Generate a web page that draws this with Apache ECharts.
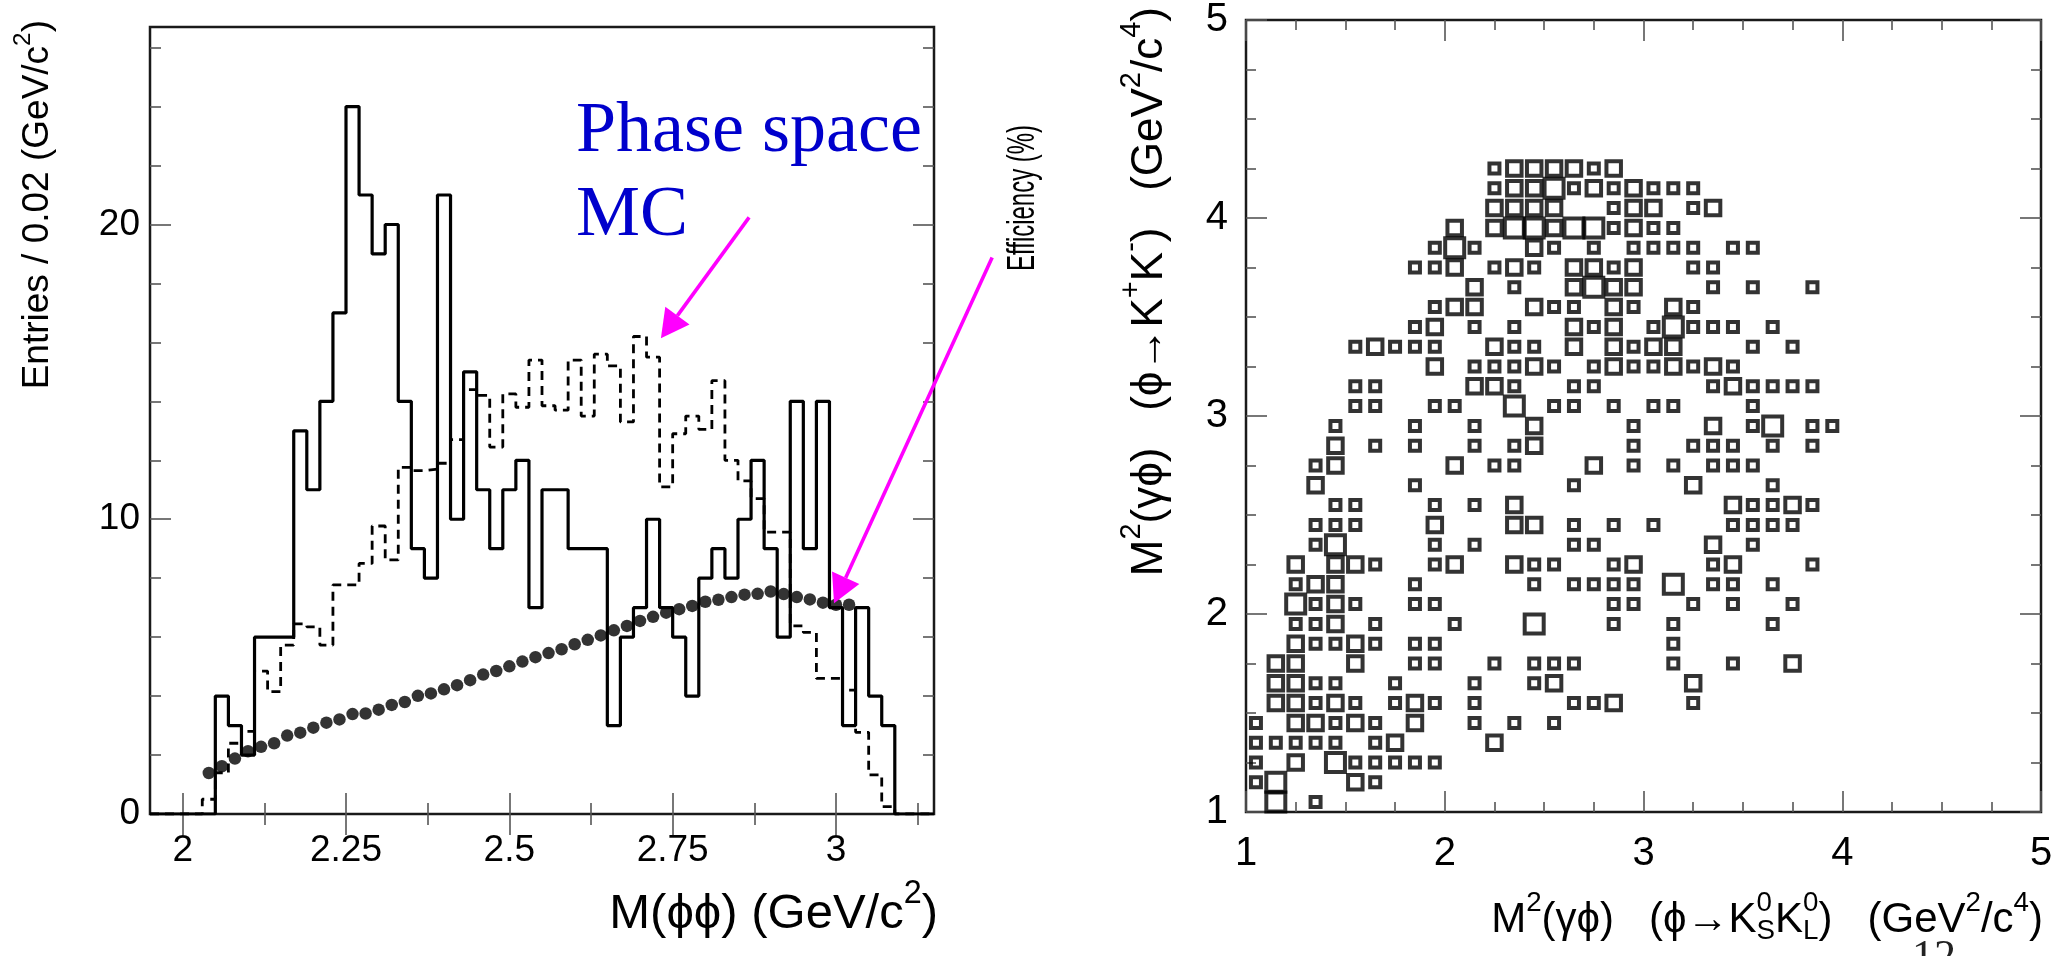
<!DOCTYPE html>
<html>
<head>
<meta charset="utf-8">
<script src="https://cdn.jsdelivr.net/npm/echarts@6/dist/echarts.min.js"></script>
<style>
  html, body { margin: 0; padding: 0; background: #ffffff; }
  #chart { width: 2069px; height: 956px; }
</style>
</head>
<body>
<div id="chart"></div>
<script>
// ---- M(phi phi) histograms: 60 bins of 0.02 GeV/c^2 starting at 1.95 ----
const massLow = 1.95;
const massBinWidth = 0.02;

// entries per bin (data, solid histogram)
const dataCounts = [
  0, 0, 0, 0, 0, 4, 3, 2, 6, 6,
  6, 13, 11, 14, 17, 24, 21, 19, 20, 14,
  9, 8, 21, 10, 15, 11, 9, 11, 12, 7,
  11, 11, 9, 9, 9, 3, 6, 7, 10, 7,
  6, 4, 8, 9, 8, 10, 12, 9, 6, 14,
  9, 14, 7, 3, 7, 4, 3, 0, 0, 0
];

// normalised phase-space Monte Carlo (dashed histogram)
const phaseSpaceMC = [
  0, 0, 0, 0, 0.5, 1.4, 2.4, 2.8, 4.85, 4.15,
  5.73, 6.45, 6.35, 5.73, 7.77, 7.77, 8.5, 9.77, 8.62, 11.76,
  11.65, 11.7, 11.9, 12.7, 14.4, 14.2, 12.45, 14.25, 13.8, 15.4,
  13.85, 13.7, 15.4, 13.5, 15.6, 15.2, 13.3, 16.2, 15.5, 11.1,
  12.9, 13.5, 13.05, 14.7, 12.0, 11.3, 10.7, 9.56, 9.56, 6.38,
  6.16, 4.6, 4.6, 4.2, 2.77, 1.33, 0.25, 0, 0, 0
];

// selection efficiency in %, one point per bin starting at bin 4 (M = 2.04)
const effFirstBin = 4;
const efficiency = [
  1.39, 1.62, 1.88, 2.13, 2.28, 2.40, 2.66, 2.76, 2.93, 3.10,
  3.21, 3.39, 3.41, 3.54, 3.70, 3.80, 4.01, 4.09, 4.23, 4.37,
  4.54, 4.73, 4.85, 5.01, 5.17, 5.32, 5.46, 5.59, 5.76, 5.91,
  6.06, 6.23, 6.38, 6.55, 6.69, 6.83, 6.95, 7.06, 7.20, 7.27,
  7.36, 7.44, 7.47, 7.55, 7.46, 7.36, 7.28, 7.17, 7.10, 7.10
];

// axis ticks of the mass plot
const massMajorTicks = [2, 2.25, 2.5, 2.75, 3];
const massMinorTicks = [2.125, 2.375, 2.625, 2.875, 3.125];
const entriesMajorTicks = [0, 10, 20];
const entriesMinorTicks = [2, 4, 6, 8, 12, 14, 16, 18, 22, 24, 26];

// ---- box plot: cells of 0.1 x 0.1 GeV^2/c^4, [x centre, entries] per row ----
const boxRows = [
  [4.25, [[2.25,1],[2.35,2],[2.45,2],[2.55,2],[2.65,2],[2.75,1],[2.85,2]]],
  [4.15, [[2.25,1],[2.35,2],[2.45,2],[2.55,3],[2.65,1],[2.75,2],[2.85,1],[2.95,2],[3.05,1],[3.15,1],[3.25,1]]],
  [4.05, [[2.25,2],[2.35,2],[2.45,2],[2.55,2],[2.85,1],[2.95,2],[3.05,2],[3.25,1],[3.35,2]]],
  [3.95, [[2.05,2],[2.25,2],[2.35,3],[2.45,3],[2.55,2],[2.65,3],[2.75,3],[2.85,1],[2.95,2],[3.05,1],[3.15,1]]],
  [3.85, [[1.95,1],[2.05,3],[2.15,1],[2.45,2],[2.55,1],[2.75,1],[2.95,1],[3.05,1],[3.15,1],[3.25,1],[3.45,1],[3.55,1]]],
  [3.75, [[1.85,1],[1.95,1],[2.05,2],[2.25,1],[2.35,2],[2.45,1],[2.65,2],[2.75,2],[2.85,1],[2.95,2],[3.25,1],[3.35,1]]],
  [3.65, [[2.15,2],[2.35,1],[2.65,2],[2.75,3],[2.85,2],[2.95,2],[3.35,1],[3.55,1],[3.85,1]]],
  [3.55, [[1.95,1],[2.05,2],[2.15,2],[2.45,2],[2.55,1],[2.65,1],[2.85,2],[2.95,1],[3.15,2],[3.25,1]]],
  [3.45, [[1.85,1],[1.95,2],[2.15,1],[2.35,1],[2.65,2],[2.75,1],[2.85,2],[3.05,1],[3.15,3],[3.25,1],[3.35,1],[3.45,1],[3.65,1]]],
  [3.35, [[1.55,1],[1.65,2],[1.75,1],[1.85,1],[1.95,1],[2.25,2],[2.35,1],[2.45,1],[2.65,2],[2.85,2],[2.95,1],[3.05,2],[3.15,2],[3.55,1],[3.75,1]]],
  [3.25, [[1.95,2],[2.15,1],[2.25,1],[2.35,1],[2.45,2],[2.55,1],[2.75,1],[2.85,2],[2.95,1],[3.05,1],[3.15,2],[3.25,1],[3.35,2],[3.45,1]]],
  [3.15, [[1.55,1],[1.65,1],[2.15,2],[2.25,2],[2.35,1],[2.65,1],[2.75,1],[3.35,1],[3.45,2],[3.55,1],[3.65,1],[3.75,1],[3.85,1]]],
  [3.05, [[1.55,1],[1.65,1],[1.95,1],[2.05,1],[2.35,3],[2.55,1],[2.65,1],[2.85,1],[3.05,1],[3.15,1],[3.55,1]]],
  [2.95, [[1.45,1],[1.85,1],[2.15,1],[2.45,2],[2.95,1],[3.35,2],[3.55,1],[3.65,3],[3.85,1],[3.95,1]]],
  [2.85, [[1.45,2],[1.65,1],[1.85,1],[2.15,1],[2.35,1],[2.45,2],[2.95,1],[3.25,1],[3.35,1],[3.45,1],[3.65,1],[3.85,1]]],
  [2.75, [[1.35,1],[1.45,2],[2.05,2],[2.25,1],[2.35,1],[2.75,2],[2.95,1],[3.15,1],[3.35,1],[3.45,1],[3.55,1]]],
  [2.65, [[1.35,2],[1.85,1],[2.65,1],[3.25,2],[3.65,1]]],
  [2.55, [[1.45,1],[1.55,1],[1.95,1],[2.15,1],[2.35,2],[3.45,2],[3.55,1],[3.65,1],[3.75,2],[3.85,1]]],
  [2.45, [[1.35,1],[1.45,1],[1.55,1],[1.95,2],[2.35,2],[2.45,2],[2.65,1],[2.85,1],[3.05,1],[3.45,1],[3.55,1],[3.65,1],[3.75,1]]],
  [2.35, [[1.35,1],[1.45,3],[1.95,1],[2.15,1],[2.65,1],[2.75,1],[3.35,2],[3.55,1]]],
  [2.25, [[1.25,2],[1.45,2],[1.55,2],[1.65,1],[1.95,1],[2.05,2],[2.35,2],[2.45,1],[2.55,1],[2.85,1],[2.95,2],[3.35,1],[3.45,2],[3.85,1]]],
  [2.15, [[1.25,1],[1.35,2],[1.45,2],[1.85,1],[2.45,1],[2.65,1],[2.75,1],[2.85,1],[2.95,1],[3.15,3],[3.35,1],[3.45,1],[3.65,1]]],
  [2.05, [[1.25,3],[1.35,1],[1.45,2],[1.55,1],[1.85,1],[1.95,1],[2.85,1],[2.95,1],[3.25,1],[3.45,1],[3.75,1]]],
  [1.95, [[1.25,1],[1.35,1],[1.45,2],[1.65,1],[2.05,1],[2.45,3],[2.85,1],[3.15,1],[3.65,1]]],
  [1.85, [[1.25,2],[1.35,1],[1.45,1],[1.55,2],[1.65,1],[1.85,1],[1.95,1],[3.15,1]]],
  [1.75, [[1.15,2],[1.25,2],[1.55,2],[1.85,1],[1.95,1],[2.25,1],[2.45,1],[2.55,1],[2.65,1],[3.15,1],[3.45,1],[3.75,2]]],
  [1.65, [[1.15,2],[1.25,2],[1.35,1],[1.45,1],[1.75,1],[2.15,1],[2.45,1],[2.55,2],[3.25,2]]],
  [1.55, [[1.15,2],[1.25,2],[1.35,1],[1.45,2],[1.55,1],[1.75,1],[1.85,2],[1.95,1],[2.15,1],[2.65,1],[2.75,1],[2.85,2],[3.25,1]]],
  [1.45, [[1.05,1],[1.25,2],[1.35,2],[1.45,1],[1.55,2],[1.65,1],[1.85,2],[2.15,1],[2.35,1],[2.55,1]]],
  [1.35, [[1.05,1],[1.15,1],[1.25,1],[1.35,1],[1.45,1],[1.65,1],[1.75,2],[2.25,2]]],
  [1.25, [[1.05,1],[1.25,2],[1.45,3],[1.55,1],[1.65,1],[1.75,1],[1.85,1],[1.95,1]]],
  [1.15, [[1.05,1],[1.15,3],[1.55,2],[1.65,1]]],
  [1.05, [[1.15,3],[1.35,1]]]
];

// ---- table building ----
const binEdge = k => +(massLow + k * massBinWidth).toFixed(4);
function histogramOutline(counts) {
  const pts = counts.map((v, k) => [binEdge(k), v]);
  pts.push([binEdge(counts.length), counts[counts.length - 1]]);
  return pts;
}
const effPoints = efficiency.map((v, i) => [+(binEdge(effFirstBin + i) + massBinWidth / 2).toFixed(4), v]);
const boxCells = [];
boxRows.forEach(([y, cells]) => cells.forEach(([x, n]) => boxCells.push([x, y, n])));

// ---- styling helpers ----
const SANS = "'Liberation Sans', Arial, 'DejaVu Sans', sans-serif";
const NARROW = "'Liberation Sans Narrow', 'Liberation Sans', Arial, sans-serif";
const SERIF = "'Liberation Serif', 'Times New Roman', serif";
const FRAME = '#1a1a1a';
const TICK = '#555555';

function tickAxis(o) {
  return Object.assign({
    type: 'value',
    axisLine: { show: false },
    splitLine: { show: false },
    axisTick: { show: true, inside: true, length: 21, lineStyle: { color: TICK, width: 1.6 } },
    axisLabel: { show: false },
    axisPointer: { show: false }
  }, o);
}
function ticksAt(values, length) {
  return { show: true, inside: true, length: length, customValues: values, lineStyle: { color: TICK, width: 1.6 } };
}
const massLabel = (values, margin) => ({
  show: true, customValues: values, margin: margin, color: '#000',
  fontFamily: SANS, fontSize: 37, formatter: v => String(v)
});
const minorRight = { show: true, splitNumber: 4, length: 10, lineStyle: { color: TICK, width: 1.6 } };

const chart = echarts.init(document.getElementById('chart'), null, { renderer: 'canvas', width: 2069, height: 956 });

const option = {
  animation: false,
  backgroundColor: '#ffffff',
  grid: [
    { left: 150, top: 27, width: 784, height: 787, show: true, borderColor: FRAME, borderWidth: 2.5, backgroundColor: 'transparent' },
    { left: 1246, top: 12, width: 795, height: 800, show: true, borderColor: FRAME, borderWidth: 2.5, backgroundColor: 'transparent' }
  ],
  xAxis: [
    tickAxis({ gridIndex: 0, min: 1.95, max: 3.15, position: 'bottom', axisTick: ticksAt(massMajorTicks, 21), axisLabel: massLabel(massMajorTicks, 18) }),
    tickAxis({ gridIndex: 0, min: 1.95, max: 3.15, position: 'bottom', axisTick: ticksAt(massMinorTicks, 11) }),
    tickAxis({ gridIndex: 0, min: 1.95, max: 3.15, position: 'top', axisTick: ticksAt(massMajorTicks, 21) }),
    tickAxis({ gridIndex: 0, min: 1.95, max: 3.15, position: 'top', axisTick: ticksAt(massMinorTicks, 11) }),
    tickAxis({
      gridIndex: 1, min: 1, max: 5, interval: 1, position: 'bottom', minorTick: minorRight,
      axisLabel: { show: true, margin: 22, color: '#000', fontFamily: NARROW, fontSize: 40 }
    }),
    tickAxis({ gridIndex: 1, min: 1, max: 5, interval: 1, position: 'top', minorTick: minorRight })
  ],
  yAxis: [
    tickAxis({ gridIndex: 0, min: 0, max: 26.7, position: 'left', axisTick: ticksAt(entriesMajorTicks, 21), axisLabel: massLabel(entriesMajorTicks, 10) }),
    tickAxis({ gridIndex: 0, min: 0, max: 26.7, position: 'left', axisTick: ticksAt(entriesMinorTicks, 11) }),
    tickAxis({ gridIndex: 0, min: 0, max: 26.7, position: 'right', axisTick: ticksAt(entriesMajorTicks, 21) }),
    tickAxis({ gridIndex: 0, min: 0, max: 26.7, position: 'right', axisTick: ticksAt(entriesMinorTicks, 11) }),
    tickAxis({
      gridIndex: 1, min: 1, max: 5, interval: 1, position: 'left', minorTick: minorRight,
      axisLabel: { show: true, margin: 18, color: '#000', fontFamily: NARROW, fontSize: 40 }
    }),
    tickAxis({ gridIndex: 1, min: 1, max: 5, interval: 1, position: 'right', minorTick: minorRight })
  ],
  series: [
    {
      name: 'data', type: 'line', xAxisIndex: 0, yAxisIndex: 0, step: 'end',
      data: histogramOutline(dataCounts), symbol: 'none',
      lineStyle: { color: '#000', width: 3.2 }, z: 3
    },
    {
      name: 'phase space MC', type: 'line', xAxisIndex: 0, yAxisIndex: 0, step: 'end',
      data: histogramOutline(phaseSpaceMC), symbol: 'none',
      lineStyle: { color: '#000', width: 2.8, type: [9, 6] }, z: 2
    },
    {
      name: 'efficiency', type: 'scatter', xAxisIndex: 0, yAxisIndex: 0,
      data: effPoints, symbol: 'circle', symbolSize: 12.5,
      itemStyle: { color: '#000' }, z: 4
    },
    {
      name: 'cells', type: 'scatter', xAxisIndex: 4, yAxisIndex: 4,
      data: boxCells, symbol: 'rect',
      symbolSize: v => 5.5 + 4.5 * v[2],
      itemStyle: { color: 'rgba(0,0,0,0)', borderColor: '#000', borderWidth: 4 },
      z: 3
    }
  ]
};
chart.setOption(option);

// ---- text with super/subscripts, laid out piece by piece ----
const measureCtx = document.createElement('canvas').getContext('2d');
function textWidth(t, size, family) {
  measureCtx.font = size + 'px ' + family;
  return measureCtx.measureText(t).width;
}
// pieces: [text, mode]; mode '' normal, '^' superscript, '_' subscript,
// '^/' superscript stacked over the following subscript
function formula(pieces, size, family, color, x, y, rotate, scaleX) {
  const small = size * 0.66;
  const kids = [];
  let cx = 0, stacked = 0;
  pieces.forEach(([t, mode]) => {
    const fs = mode ? small : size;
    const w = textWidth(t, fs, family);
    const dy = mode.charAt(0) === '^' ? -size * 0.40 : (mode === '_' ? size * 0.26 : 0);
    kids.push({
      type: 'text', x: cx, y: dy,
      style: {
        text: t, font: fs + 'px ' + family, fontSize: fs, fontFamily: family, fill: color,
        align: 'left', textAlign: 'left', verticalAlign: 'middle', textVerticalAlign: 'middle'
      }
    });
    if (mode === '^/') { stacked = w; } else { cx += Math.max(w, stacked); stacked = 0; }
  });
  kids.forEach(k => { k.x -= cx; });   // right-aligned at the anchor
  return {
    type: 'group', x: x, y: y, rotation: rotate ? Math.PI / 2 : 0,
    scaleX: scaleX || 1, children: kids, silent: true
  };
}

// annotation anchors in data coordinates of the mass plot
const phaseSpaceLabelAt = [2.602, 22.35];
const mcArrow = { from: [2.867, 20.24], to: [2.732, 16.14] };
const effArrow = { from: [3.239, 18.88], to: [2.997, 7.15] };

function arrow(a) {
  const p0 = chart.convertToPixel({ gridIndex: 0 }, a.from);
  const p1 = chart.convertToPixel({ gridIndex: 0 }, a.to);
  const dx = p1[0] - p0[0], dy = p1[1] - p0[1];
  const len = Math.hypot(dx, dy), ux = dx / len, uy = dy / len;
  const headLen = 28, halfW = 15;
  const bx = p1[0] - ux * headLen, by = p1[1] - uy * headLen;
  return [
    { type: 'line', shape: { x1: p0[0], y1: p0[1], x2: bx, y2: by }, style: { stroke: '#ff00ff', lineWidth: 3.6 }, silent: true, z: 10 },
    {
      type: 'polygon',
      shape: { points: [[p1[0], p1[1]], [bx - uy * halfW, by + ux * halfW], [bx + uy * halfW, by - ux * halfW]] },
      style: { fill: '#ff00ff' }, silent: true, z: 10
    }
  ];
}

const psAt = chart.convertToPixel({ gridIndex: 0 }, phaseSpaceLabelAt);
const graphics = [
  {
    type: 'text', x: psAt[0], y: psAt[1] + 13, silent: true, z: 10,
    style: { text: 'Phase space', font: '72px ' + SERIF, fill: '#0000cc', align: 'left', textAlign: 'left', verticalAlign: 'bottom', textVerticalAlign: 'bottom' }
  },
  {
    type: 'text', x: psAt[0], y: psAt[1] + 97, silent: true, z: 10,
    style: { text: 'MC', font: '72px ' + SERIF, fill: '#0000cc', align: 'left', textAlign: 'left', verticalAlign: 'bottom', textVerticalAlign: 'bottom' }
  },
  ...arrow(mcArrow),
  ...arrow(effArrow),
  // axis titles of the mass plot
  formula([['Entries / 0.02 (GeV/c', ''], ['2', '^'], [')', '']], 37, SANS, '#000', 38, 20, true),
  formula([['M(ϕϕ) (GeV/c', ''], ['2', '^'], [')', '']], 49, SANS, '#000', 938, 914, false),
  formula([['Efficiency (%)', '']], 38, SANS, '#000', 1024, 125, true, 0.63),
  // axis titles of the box plot
  formula([['M', ''], ['2', '^'], ['(γϕ)   (ϕ→K', ''], ['+', '^'], ['K', ''], ['-', '^'], [')   (GeV', ''], ['2', '^'], ['/c', ''], ['4', '^'], [')', '']],
    44, SANS, '#000', 1150, 7, true),
  formula([['M', ''], ['2', '^'], ['(γϕ)   (ϕ→K', ''], ['0', '^/'], ['S', '_'], ['K', ''], ['0', '^/'], ['L', '_'], [')   (GeV', ''], ['2', '^'], ['/c', ''], ['4', '^'], [')', '']],
    42, SANS, '#000', 2043, 920, false),
  // page number at the foot of the slide
  {
    type: 'text', x: 1934, y: 936, silent: true, z: 10,
    style: { text: '12', font: '44px ' + SERIF, fill: '#222', align: 'center', textAlign: 'center', verticalAlign: 'top', textVerticalAlign: 'top' }
  }
];
chart.setOption({ graphic: graphics });
</script>
</body>
</html>
